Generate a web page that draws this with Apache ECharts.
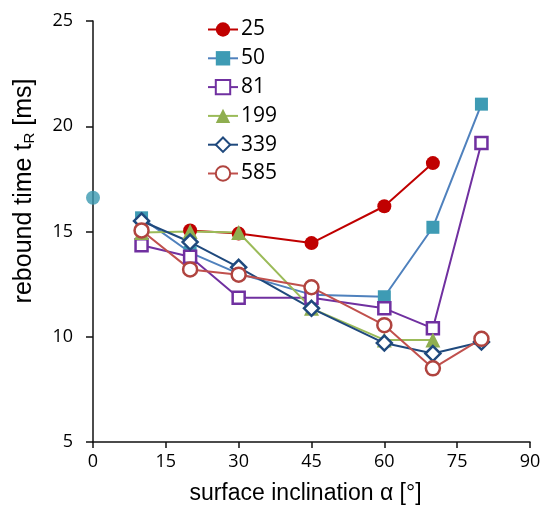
<!DOCTYPE html>
<html>
<head>
<meta charset="utf-8">
<script src="https://cdn.jsdelivr.net/npm/echarts@6/dist/echarts.min.js"></script>
<style>
  html, body { margin: 0; padding: 0; background: #fff; }
  #chart { width: 544px; height: 514px; }
</style>
</head>
<body>
<div id="chart"></div>
<script>
// inclination angles [deg]
const angles = [10, 20, 30, 45, 60, 70, 80]

// rebound time per series, null = no point
const t25  = [null, 15.05, 14.9, 14.45, 16.2, 18.25, null]
const t50  = [15.65, 14.0, 13.0, 12.0, 11.9, 15.2, 21.05]
const t81  = [14.35, 13.8, 11.85, 11.85, 11.35, 10.4, 19.2]
const t199 = [14.95, 15.0, 14.95, 11.35, 9.85, 9.85, null]
const t339 = [15.5, 14.5, 13.3, 11.35, 9.7, 9.2, 9.75]
const t585 = [15.05, 13.2, 12.95, 12.35, 10.55, 8.5, 9.9]

// single reference point at 0 deg
const refAngle = [0]
const refTime = [16.6]

const xTicks = [0, 15, 30, 45, 60, 75, 90]
const yTicks = [5, 10, 15, 20, 25]

function pairs(vals) {
    return angles.map((a, i) => [a, vals[i]]).filter(p => p[1] !== null)
}

const chart = echarts.init(document.getElementById('chart'))

function mkSeries(name, vals, symbol, lineColor, fill, border, size) {
    return {
        name: name,
        type: 'line',
        data: pairs(vals),
        symbol: symbol,
        symbolSize: size,
        showAllSymbol: true,
        lineStyle: { color: lineColor, width: 2 },
        itemStyle: { color: fill, borderColor: border, borderWidth: fill === '#ffffff' ? 2.5 : 0 },
        emphasis: { disabled: true },
        animation: false
    }
}

const option = {
    animation: false,
    grid: { left: 93, right: 14, top: 21, bottom: 72 },
    legend: {
        orient: 'vertical',
        left: 207,
        top: 19,
        padding: 0,
        itemWidth: 30,
        itemHeight: 18,
        itemGap: 7.8,
        textStyle: { fontFamily: 'Open Sans', fontSize: 21, color: '#000', padding: [0, 0, 0, -2] },
        data: ['25', '50', '81', '199', '339', '585']
    },
    xAxis: {
        type: 'value',
        min: 0, max: 90, interval: 15,
        name: 'surface inclination α [°]',
        nameLocation: 'middle',
        nameGap: 40,
        nameTextStyle: { fontFamily: 'Liberation Sans', fontSize: 23, color: '#000', padding: [0, 12, 0, 0] },
        axisLine: { lineStyle: { color: '#111', width: 1.5 } },
        axisTick: { show: true, length: 6, lineStyle: { color: '#111', width: 1.5 } },
        axisLabel: {
            margin: 11, fontFamily: 'Open Sans', fontSize: 18, color: '#000',
            formatter: v => xTicks.includes(v) ? String(v) : ''
        },
        splitLine: { show: false }
    },
    yAxis: {
        type: 'value',
        min: 5, max: 25, interval: 5,
        axisLine: { show: true, lineStyle: { color: '#111', width: 1.5 } },
        axisTick: { show: true, length: 7, lineStyle: { color: '#111', width: 1.5 } },
        axisLabel: {
            margin: 20, fontFamily: 'Open Sans', fontSize: 18, color: '#000',
            formatter: v => yTicks.includes(v) ? String(v) : ''
        },
        splitLine: { show: false }
    },
    graphic: [{
        type: 'text',
        x: 24,
        y: 191,
        rotation: Math.PI / 2,
        style: {
            text: 'rebound time t{sub|R} [ms]',
            fontFamily: 'Liberation Sans',
            fontSize: 25,
            fill: '#000',
            align: 'center',
            verticalAlign: 'middle',
            rich: {
                sub: { fontFamily: 'Liberation Sans', fontSize: 15, verticalAlign: 'bottom', padding: [11, 0, 0, 0], fill: '#000' }
            }
        }
    }],
    series: [
        mkSeries('25', t25, 'circle', '#C00000', '#C00000', '#C00000', 14),
        mkSeries('50', t50, 'rect', '#4F81BD', '#3E9BB4', '#3E9BB4', 13),
        mkSeries('81', t81, 'rect', '#7030A0', '#ffffff', '#7030A0', 12),
        mkSeries('199', t199, 'triangle', '#9BBB59', '#8FAE50', '#8FAE50', 15),
        mkSeries('339', t339, 'diamond', '#1F497D', '#ffffff', '#1F497D', 15),
        mkSeries('585', t585, 'circle', '#C0504D', '#ffffff', '#B0443F', 14),
        {
            type: 'scatter',
            data: refAngle.map((a, i) => [a, refTime[i]]),
            symbol: 'circle',
            symbolSize: 14,
            itemStyle: { color: '#3A98B0' },
            emphasis: { disabled: true },
            clip: false
        }
    ]
}
chart.setOption(option)
</script>
</body>
</html>
